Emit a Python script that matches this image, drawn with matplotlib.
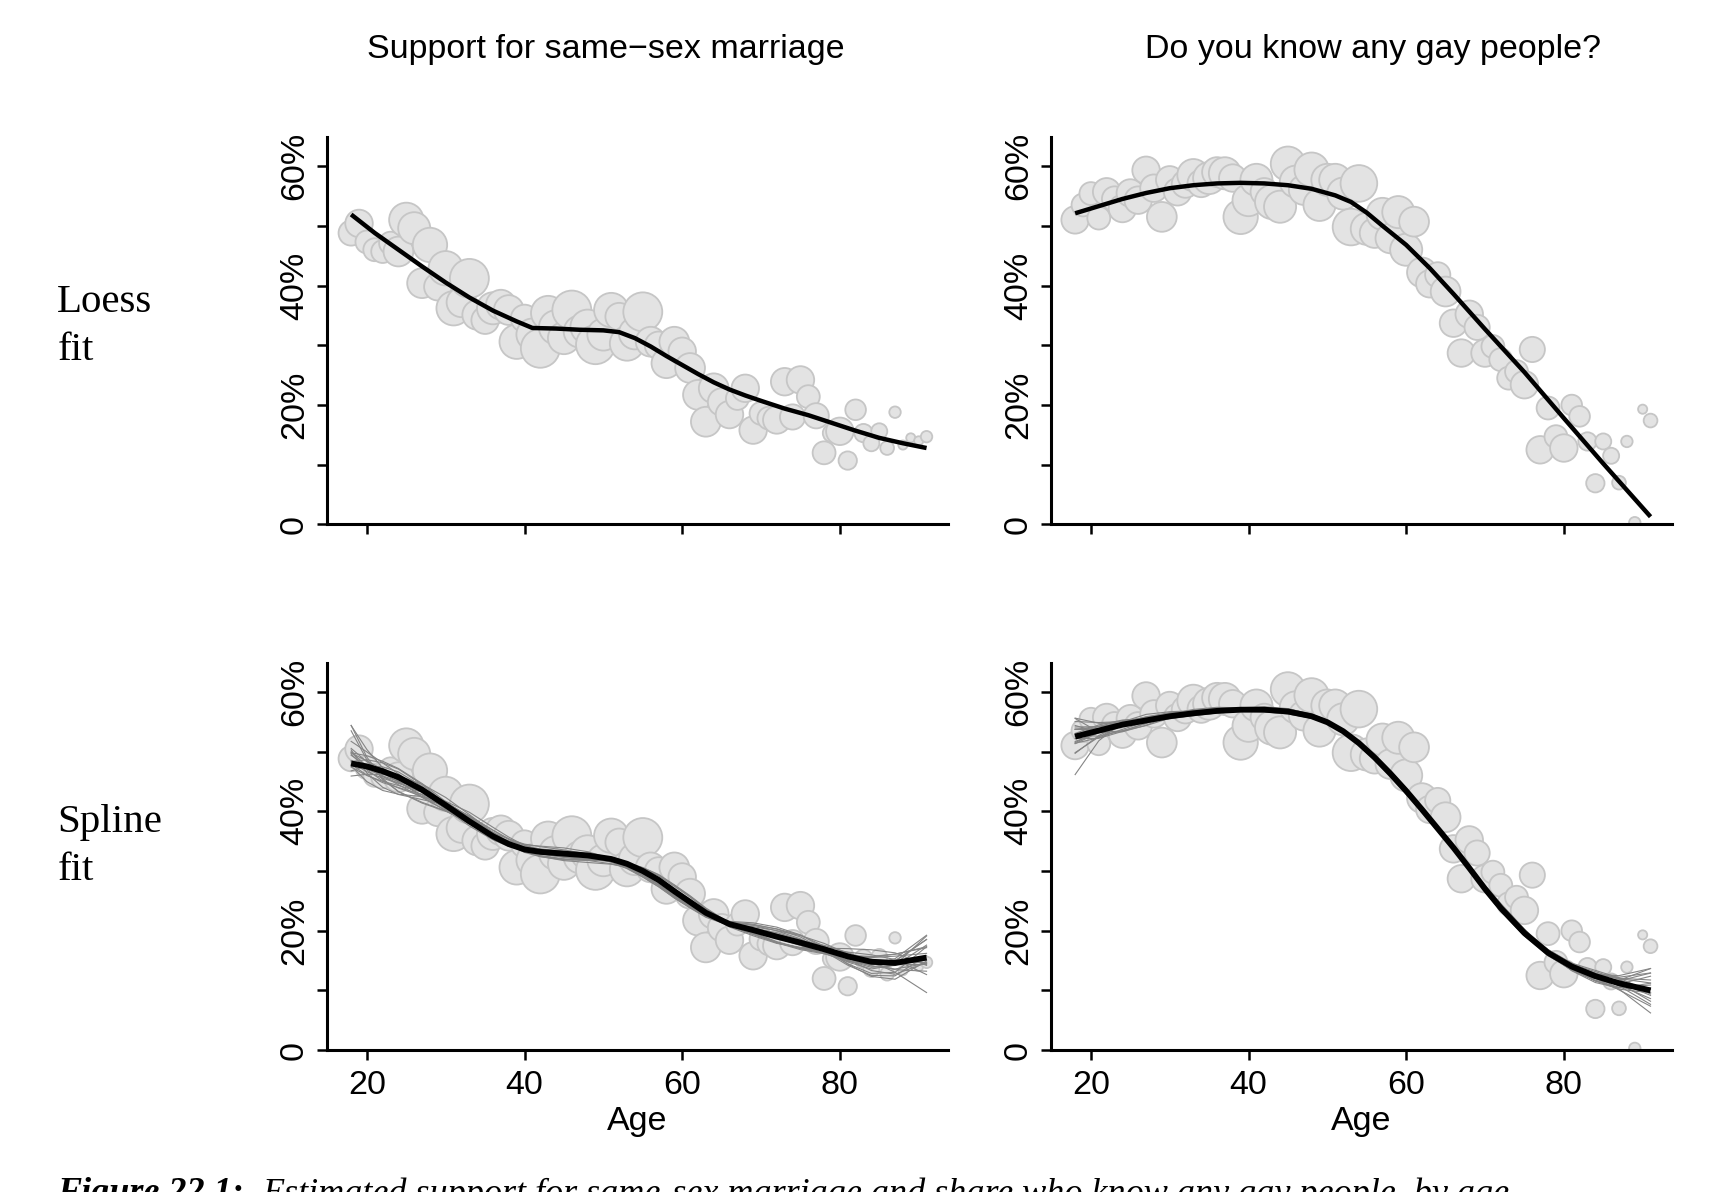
import numpy as np
import matplotlib.pyplot as plt

# survey data by age: share and circle radius (proxy for sample size)
ages = np.arange(18, 92)
support = [0.488, 0.504, 0.473, 0.460, 0.457, 0.471, 0.457, 0.510, 0.496, 0.404,
           0.468, 0.398, 0.429, 0.362, 0.372, 0.412, 0.351, 0.342, 0.362, 0.368,
           0.359, 0.306, 0.345, 0.318, 0.295, 0.354, 0.330, 0.312, 0.359, 0.323,
           0.331, 0.301, 0.318, 0.359, 0.348, 0.303, 0.320, 0.356, 0.306, 0.300,
           0.270, 0.306, 0.290, 0.262, 0.217, 0.172, 0.228, 0.205, 0.184, 0.211,
           0.228, 0.158, 0.186, 0.178, 0.175, 0.239, 0.180, 0.242, 0.214, 0.182,
           0.120, 0.153, 0.156, 0.107, 0.192, 0.153, 0.136, 0.156, 0.128, 0.188,
           0.133, 0.145, 0.140, 0.147]
support_r = [11, 12, 10, 10, 10, 10, 13, 15, 14, 13, 15, 12, 15, 15, 13, 17, 13, 12, 14, 13,
             13, 15, 12, 14, 17, 15, 15, 14, 17, 14, 15, 17, 14, 15, 12, 15, 14, 17, 13, 12,
             13, 13, 12, 13, 13, 13, 13, 12, 12, 10, 12, 12, 10, 10, 12, 12, 11, 12, 10, 11,
             10, 8, 12, 8, 9, 8, 7, 7, 6, 5, 4, 4, 4, 5]
know = [0.510, 0.535, 0.554, 0.513, 0.557, 0.545, 0.529, 0.555, 0.543, 0.593,
        0.563, 0.515, 0.577, 0.557, 0.570, 0.585, 0.571, 0.580, 0.590, 0.588,
        0.580, 0.515, 0.543, 0.577, 0.557, 0.540, 0.532, 0.604, 0.574, 0.560,
        0.594, 0.535, 0.577, 0.577, 0.554, 0.498, 0.571, 0.495, 0.488, 0.520,
        0.479, 0.523, 0.460, 0.507, 0.422, 0.403, 0.418, 0.390, 0.337, 0.287,
        0.352, 0.330, 0.287, 0.298, 0.276, 0.245, 0.256, 0.234, 0.293, 0.125,
        0.195, 0.147, 0.128, 0.200, 0.181, 0.139, 0.069, 0.139, 0.115, 0.070,
        0.139, 0.003, 0.193, 0.174]
know_r = [12, 10, 10, 10, 12, 11, 12, 12, 12, 12, 12, 13, 12, 12, 12, 14, 12, 14, 13, 14,
          12, 15, 14, 14, 12, 15, 14, 15, 14, 13, 15, 14, 14, 14, 14, 16, 16, 14, 13, 14,
          13, 14, 14, 13, 13, 12, 11, 13, 12, 12, 12, 11, 12, 10, 10, 10, 10, 12, 11, 12,
          10, 10, 12, 9, 9, 8, 8, 7, 7, 6, 5, 5, 4, 6]

# fitted curves
loess_support_age = [18, 21, 24, 27, 30, 33, 36, 39, 41, 44, 47, 50, 52, 54, 56, 58, 60,
                     62, 64, 66, 68, 70, 73, 76, 79, 82, 85, 88, 91]
loess_support = [0.519, 0.488, 0.460, 0.432, 0.405, 0.380, 0.358, 0.340, 0.329, 0.328,
                 0.326, 0.325, 0.322, 0.312, 0.298, 0.282, 0.267, 0.252, 0.238, 0.226,
                 0.216, 0.207, 0.194, 0.183, 0.170, 0.157, 0.145, 0.136, 0.128]
loess_know_age = [18, 21, 24, 27, 30, 33, 36, 39, 42, 45, 48, 51, 53, 55, 57, 60, 63, 66,
                  70, 75, 80, 85, 91]
loess_know = [0.521, 0.533, 0.545, 0.555, 0.563, 0.568, 0.571, 0.572, 0.571, 0.568,
              0.562, 0.551, 0.540, 0.522, 0.500, 0.468, 0.429, 0.386, 0.327, 0.255,
              0.178, 0.102, 0.013]
spline_support_age = [18, 20, 22, 24, 27, 30, 33, 36, 38, 40, 42, 45, 48, 51, 53, 55, 57,
                      59, 61, 63, 66, 69, 72, 75, 78, 81, 84, 87, 91]
spline_support = [0.480, 0.475, 0.467, 0.457, 0.436, 0.410, 0.383, 0.358, 0.345, 0.336,
                  0.332, 0.329, 0.326, 0.320, 0.312, 0.300, 0.285, 0.266, 0.248, 0.230,
                  0.211, 0.201, 0.190, 0.180, 0.169, 0.157, 0.148, 0.146, 0.155]
spline_know_age = [18, 21, 24, 27, 30, 33, 36, 39, 42, 45, 48, 50, 52, 54, 56, 58, 60, 62,
                   64, 66, 68, 70, 72, 75, 78, 81, 84, 87, 91]
spline_know = [0.525, 0.535, 0.545, 0.552, 0.559, 0.564, 0.568, 0.570, 0.570, 0.567,
               0.559, 0.549, 0.534, 0.514, 0.490, 0.463, 0.434, 0.403, 0.371, 0.339,
               0.305, 0.270, 0.238, 0.196, 0.163, 0.140, 0.124, 0.112, 0.100]

titles = ["Support for same\u2212sex marriage", "Do you know any gay people?"]
row_labels = ["Loess\nfit", "Spline\nfit"]
caption_num = "Figure 22.1:"
caption = "Estimated support for same-sex marriage and share who know any gay people, by age"
y_ticks = [0, 0.1, 0.2, 0.3, 0.4, 0.5, 0.6]
y_ticklabels = ["0", "", "20%", "", "40%", "", "60%"]
x_ticks = [20, 40, 60, 80]


def basis(x):
    x = (np.asarray(x, float) - 50) / 10
    cols = [np.ones_like(x), x, x ** 2, x ** 3]
    for k in [-2.0, -0.5, 1.0, 2.5]:
        cols.append(np.clip(x - k, 0, None) ** 3)
    return np.column_stack(cols)


def spline_fit(x, y, w, xe, pen):
    B = basis(x)
    P = np.diag([0, 0, 0, 0, 1, 1, 1, 1]) * pen
    beta = np.linalg.solve(B.T @ (B * w[:, None]) + P, B.T @ (w * y))
    return basis(xe) @ beta


def spline_draws(y, r, xe):
    # refits with the residuals shifted around the ages (residual resampling)
    y = np.asarray(y)
    w = np.asarray(r, float)
    fitted = spline_fit(ages, y, w, ages, 4.0)
    resid = y - fitted
    full = spline_fit(ages, y, w, xe, 4.0)
    out = []
    for k in range(1, 21):
        shift = 7 * k + 2
        yk = fitted + np.roll(resid if k % 2 else resid[::-1], shift)
        out.append(spline_fit(ages, yk, w, xe, 4.0) - full)
    return out


plt.rcParams['font.family'] = ['Liberation Sans', 'DejaVu Sans']
fig = plt.figure(figsize=(17.25, 11.92), dpi=100)

panels = [
    (support, support_r, loess_support_age, loess_support, spline_support_age, spline_support),
    (know, know_r, loess_know_age, loess_know, spline_know_age, spline_know),
]
lefts = [0.1894, 0.6091]
bottoms = [0.5600, 0.1190]

for col, (vals, rads, la, lv, sa, sv) in enumerate(panels):
    sizes = (1.65 * np.asarray(rads, float)) ** 2
    for row in range(2):
        ax = fig.add_axes([lefts[col], bottoms[row], 0.3603, 0.3247])
        ax.scatter(ages, vals, s=sizes, facecolor='#e3e3e3', edgecolor='#c6c6c6',
                   linewidth=1.3, zorder=1)
        if row == 0:
            ax.plot(la, lv, color='black', lw=3.2, solid_capstyle='butt', zorder=3)
        else:
            for d in spline_draws(vals, rads, sa):
                ax.plot(sa, np.asarray(sv) + d, color='#858585', lw=0.8, zorder=2)
            ax.plot(sa, sv, color='black', lw=4.2, solid_capstyle='butt', zorder=3)
        ax.set_xlim(14.9, 93.75)
        ax.set_ylim(0, 0.648)
        for side in ['top', 'right']:
            ax.spines[side].set_visible(False)
        for side in ['left', 'bottom']:
            ax.spines[side].set_linewidth(2.2)
        ax.set_xticks(x_ticks)
        ax.set_yticks(y_ticks)
        ax.set_yticklabels(y_ticklabels, rotation=90, va='center')
        ax.tick_params(length=7, width=1.8, labelsize=24.5, pad=5)
        ax.tick_params(axis='x', pad=7)
        if row == 0:
            ax.tick_params(axis='x', labelbottom=False)
        else:
            ax.set_xlabel("Age", fontsize=24.5, labelpad=4)

fig.text(551 / 1568, 0.9585, titles[0], ha='center', va='center', fontsize=24.5)
fig.text(1248 / 1568, 0.9585, titles[1], ha='center', va='center', fontsize=24.5)
fig.text(0.0332, 0.726, row_labels[0], ha='left', va='center', fontsize=29.5,
         family='Liberation Serif', linespacing=1.38)
fig.text(0.0332, 0.290, row_labels[1], ha='left', va='center', fontsize=29.5,
         family='Liberation Serif', linespacing=1.38)
fig.text(0.0332, 0.0125, caption_num, ha='left', va='top', fontsize=26,
         family='Liberation Serif', style='italic', weight='bold')
fig.text(0.152, 0.0125, caption, ha='left', va='top', fontsize=26,
         family='Liberation Serif', style='italic')

fig.savefig('out.png', dpi=100)
